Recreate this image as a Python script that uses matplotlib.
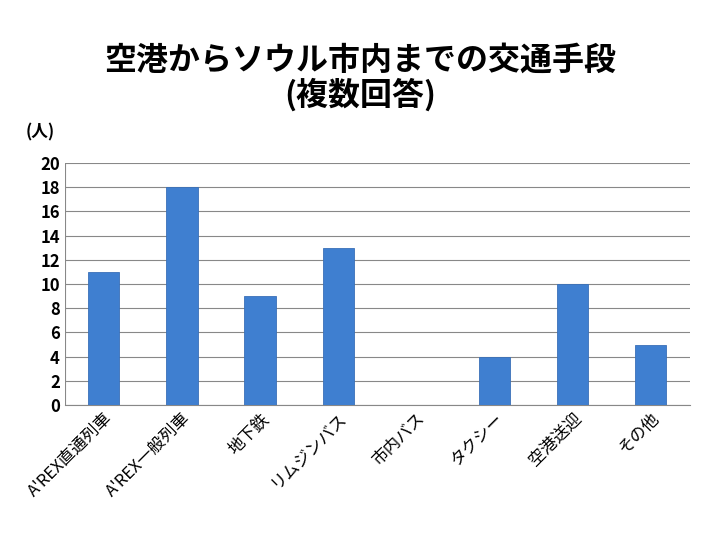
import matplotlib.pyplot as plt

plt.rcParams['font.family'] = ['Noto Sans CJK JP', 'DejaVu Sans']

categories = ["A'REX直通列車", "A'REX一般列車", "地下鉄", "リムジンバス",
              "市内バス", "タクシー", "空港送迎", "その他"]
counts = [11, 18, 9, 13, 0, 4, 10, 5]

fig = plt.figure(figsize=(7.2, 5.4), dpi=100)
ax = fig.add_axes([0.090, 0.25, 0.868, 0.448])

ax.bar(range(len(categories)), counts, width=0.4, color="#3F7FD0",
       edgecolor="#3A70B8", linewidth=0.6, zorder=3)

ax.set_ylim(0, 20)
ax.set_yticks(range(0, 21, 2))
ax.set_xlim(-0.5, len(categories) - 0.5)
ax.set_xticks(range(len(categories)))
ax.set_xticklabels(categories, rotation=45, ha="right", rotation_mode="anchor",
                   fontsize=12)
ax.tick_params(axis="y", labelsize=12, length=0)
ax.tick_params(axis="x", length=0)
for lab in ax.get_yticklabels():
    lab.set_fontweight("bold")
ax.grid(axis="y", color="#888888", linewidth=0.8, zorder=0)
for side in ["top", "right", "left"]:
    ax.spines[side].set_visible(False)
ax.spines["bottom"].set_color("#888888")
ax.axvline(-0.5, color="#888888", linewidth=0.8)

fig.text(0.5, 0.855, "空港からソウル市内までの交通手段\n(複数回答)", ha="center",
         va="center", fontsize=23, fontweight="bold", linespacing=1.05)
fig.text(0.035, 0.745, "(人)", fontsize=12, fontweight="bold")

fig.savefig("out.png", dpi=100)
